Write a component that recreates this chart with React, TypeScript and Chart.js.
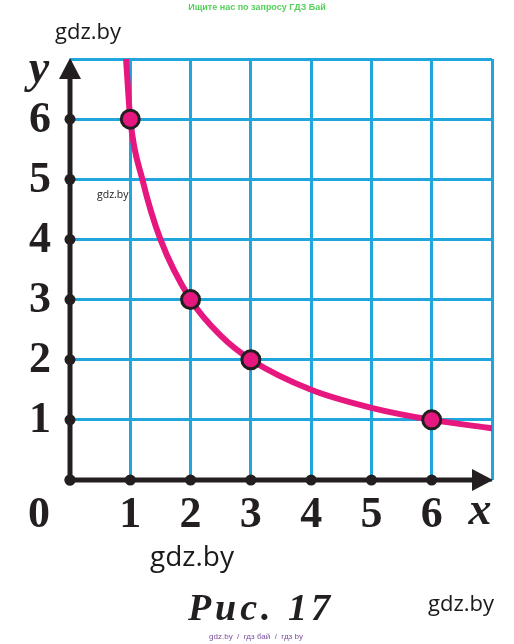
import React, { useEffect, useRef } from "react";
import { Chart, registerables } from "chart.js";

Chart.register(...registerables);

// Curve y = 6/x
const curveX = [0.93, 1, 1.2, 1.5, 2, 2.5, 3, 4, 5, 6, 7];
const curveY = [7, 6, 5, 4, 3, 2.4, 2, 1.5, 1.2, 1, 0.86];
// Marked points
const pointX = [1, 2, 3, 6];
const pointY = [6, 3, 2, 1];
// Tick labels
const xTickValues = [1, 2, 3, 4, 5, 6];
const yTickValues = [1, 2, 3, 4, 5, 6];
const axisDotValues = [0, 1, 2, 3, 4, 5, 6];

const MAGENTA = "#e6187f";
const BLUE = "#20a6dd";
const BLACK = "#231f20";

const overlayPlugin = {
  id: "overlay",
  beforeDatasetsDraw(chart: any) {
    const { ctx, scales } = chart;
    const xs = scales.x;
    const ys = scales.y;
    const x0 = xs.getPixelForValue(0);
    const y0 = ys.getPixelForValue(0);
    const xEnd = xs.getPixelForValue(7);
    const yTop = ys.getPixelForValue(7);
    ctx.save();
    ctx.strokeStyle = BLACK;
    ctx.fillStyle = BLACK;
    ctx.lineWidth = 5;
    ctx.lineCap = "butt";
    // y axis
    ctx.beginPath();
    ctx.moveTo(x0, y0 + 2);
    ctx.lineTo(x0, yTop + 15);
    ctx.stroke();
    // x axis
    ctx.beginPath();
    ctx.moveTo(x0 - 2, y0);
    ctx.lineTo(xEnd - 15, y0);
    ctx.stroke();
    // arrows
    ctx.beginPath();
    ctx.moveTo(x0, yTop - 1);
    ctx.lineTo(x0 - 11, yTop + 20);
    ctx.lineTo(x0 + 11, yTop + 20);
    ctx.closePath();
    ctx.fill();
    ctx.beginPath();
    ctx.moveTo(xEnd + 1, y0);
    ctx.lineTo(xEnd - 20, y0 - 11);
    ctx.lineTo(xEnd - 20, y0 + 11);
    ctx.closePath();
    ctx.fill();
    // dots
    for (const v of axisDotValues) {
      ctx.beginPath();
      ctx.arc(xs.getPixelForValue(v), y0, 5.5, 0, Math.PI * 2);
      ctx.fill();
      ctx.beginPath();
      ctx.arc(x0, ys.getPixelForValue(v), 5.5, 0, Math.PI * 2);
      ctx.fill();
    }
    ctx.restore();
  },
  afterDraw(chart: any) {
    const { ctx, scales } = chart;
    const xs = scales.x;
    const ys = scales.y;
    ctx.save();
    ctx.fillStyle = BLACK;
    ctx.textAlign = "center";
    ctx.textBaseline = "middle";
    ctx.font = "bold 44px 'Liberation Serif'";
    for (const v of yTickValues) {
      ctx.fillText(String(v), 40, ys.getPixelForValue(v) + 1);
    }
    for (const v of xTickValues) {
      ctx.fillText(String(v), xs.getPixelForValue(v), 516);
    }
    ctx.fillText("0", 39, 516);
    ctx.font = "italic bold 46px 'Liberation Serif'";
    ctx.fillText("x", 480, 512);
    ctx.fillText("y", 39, 70);

    // captions & watermarks
    ctx.textBaseline = "alphabetic";
    ctx.font = "bold 9px 'Liberation Sans'";
    ctx.fillStyle = "#55d05a";
    ctx.fillText("Ищите нас по запросу ГДЗ Бай", 257, 10);

    ctx.fillStyle = "#1a1a1a";
    ctx.textAlign = "left";
    ctx.font = "22px 'Open Sans'";
    ctx.fillText("gdz.by", 55, 39);
    ctx.font = "10.5px 'Open Sans'";
    ctx.fillText("gdz.by", 97, 198);
    ctx.font = "28px 'Open Sans'";
    ctx.fillText("gdz.by", 150, 566);
    ctx.font = "22px 'Open Sans'";
    ctx.fillText("gdz.by", 428, 611);

    ctx.fillStyle = BLACK;
    ctx.textAlign = "center";
    ctx.font = "italic bold 38px 'Liberation Serif'";
    (ctx as any).letterSpacing = "4px";
    ctx.fillText("Рис. 17", 261, 620);
    (ctx as any).letterSpacing = "0px";

    ctx.fillStyle = "#7b4c9f";
    ctx.font = "8px 'Liberation Sans'";
    ctx.fillText("gdz.by  /  гдз бай  /  гдз by", 256, 639);
    ctx.restore();
  },
};

export default function App() {
  const ref = useRef<HTMLCanvasElement>(null);
  useEffect(() => {
    if (!ref.current) return;
    const chart = new Chart(ref.current, {
      type: "scatter",
      data: {
        datasets: [
          {
            data: pointX.map((x, i) => ({ x, y: pointY[i] })),
            pointRadius: 9,
            pointHoverRadius: 9,
            pointBackgroundColor: MAGENTA,
            pointBorderColor: BLACK,
            pointBorderWidth: 3,
            showLine: false,
          },
          {
            data: curveX.map((x, i) => ({ x, y: curveY[i] })),
            showLine: true,
            borderColor: MAGENTA,
            borderWidth: 6,
            pointRadius: 0,
            cubicInterpolationMode: "monotone",
            borderCapStyle: "round",
          },
        ],
      },
      options: {
        responsive: false,
        animation: false,
        events: [],
        layout: { padding: { left: 70, right: 22, top: 59, bottom: 164 } },
        plugins: { legend: { display: false }, tooltip: { enabled: false } },
        scales: {
          x: {
            type: "linear",
            min: 0,
            max: 7,
            ticks: { display: false, stepSize: 1 },
            grid: { color: BLUE, lineWidth: 3, drawTicks: false },
            border: { display: false },
          },
          y: {
            type: "linear",
            min: 0,
            max: 7,
            ticks: { display: false, stepSize: 1 },
            grid: { color: BLUE, lineWidth: 3, drawTicks: false },
            border: { display: false },
          },
        },
      },
      plugins: [overlayPlugin],
    });
    return () => chart.destroy();
  }, []);
  return (
    <div style={{ position: "absolute", left: 0, top: 0, width: 514, height: 644, background: "#fff" }}>
      <canvas ref={ref} width={514} height={644} />
    </div>
  );
}
